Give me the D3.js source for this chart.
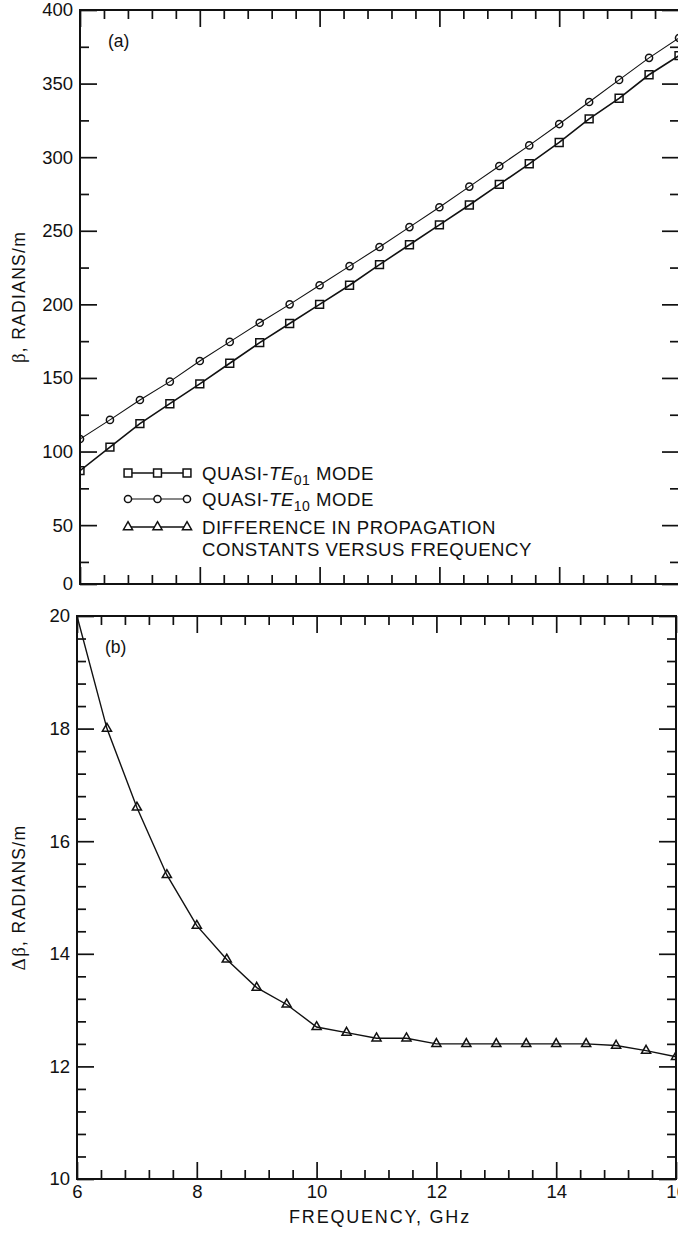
<!DOCTYPE html>
<html><head><meta charset="utf-8">
<script src="https://cdn.jsdelivr.net/npm/d3@7"></script>
<style>
body{margin:0;background:#fff;}
svg{display:block;font-family:"Liberation Sans",Arial,Helvetica,sans-serif;}
</style></head><body>
<svg id="c" width="678" height="1233"></svg>
<script>
// ---- data ----
const freq = [6.0,6.5,7.0,7.5,8.0,8.5,9.0,9.5,10.0,10.5,11.0,11.5,12.0,12.5,13.0,13.5,14.0,14.5,15.0,15.5,16.0];
const te01 = [87,103,119,132.5,146,160,174,187,200,213,227,240.5,254,267.5,281.5,295.5,310,326,340,356,369];
const te10 = [108.5,121.5,135,147.5,161.5,174.5,187.5,200,213,226,239,252.5,266,280,294,308,322.5,337.5,352.5,367.5,381];
const deltaBeta = [20.0,18.0,16.6,15.4,14.5,13.9,13.4,13.1,12.7,12.6,12.5,12.5,12.4,12.4,12.4,12.4,12.4,12.4,12.37,12.28,12.17];
const freqTicks = [6,8,10,12,14,16];
const betaTicks = [0,50,100,150,200,250,300,350,400];
const dbTicks = [10,12,14,16,18,20];
const freqMinorStep = 0.4, betaMinorStep = 25, dbMinorStep = 0.4;

const svg = d3.select("#c");
const INK = "#111";

const A = {l:80, r:679, t:10, b:584};
const B = {l:77, r:676, t:616, b:1179};

const xA = d3.scaleLinear().domain([6,16]).range([A.l, A.r]);
const yA = d3.scaleLinear().domain([10,400]).range([A.b, A.t]).clamp(true);
const xB = d3.scaleLinear().domain([6,16]).range([B.l, B.r]);
const yB = d3.scaleLinear().domain([10,20]).range([B.b, B.t]);

const freqMinor = d3.range(0, 26).map(i => +(6 + i*freqMinorStep).toFixed(2)).filter(v => !freqTicks.includes(v));
const betaMinor = d3.range(25, 400, betaMinorStep).filter(v => !betaTicks.includes(v));
const dbMinor = d3.range(0, 26).map(i => +(10 + i*dbMinorStep).toFixed(2)).filter(v => !dbTicks.includes(v));

function styleAxis(g, labels){
  g.select(".domain").remove();
  g.selectAll(".tick line").attr("stroke", INK).attr("stroke-width", 1.7);
  g.selectAll(".tick text").attr("fill", INK).style("font-size", labels ? "18.5px" : "0px")
   .style("font-family", '"Liberation Sans",Arial,sans-serif');
}

function drawPanel(P, x, y, yMajor, yMinor, showXLabels){
  const MAJ = 17, MIN = 9;
  svg.append("g").attr("transform", `translate(${P.l},0)`)
    .call(d3.axisLeft(y).tickValues(yMajor).tickSizeInner(-MAJ).tickSizeOuter(0).tickPadding(7).tickFormat(d3.format("d")))
    .call(g => styleAxis(g, true));
  svg.append("g").attr("transform", `translate(${P.l},0)`)
    .call(d3.axisLeft(y).tickValues(yMinor).tickSizeInner(-MIN).tickSizeOuter(0).tickFormat(""))
    .call(g => styleAxis(g, false));
  svg.append("g").attr("transform", `translate(${P.r},0)`)
    .call(d3.axisRight(y).tickValues(yMajor).tickSizeInner(-MAJ).tickSizeOuter(0).tickFormat(""))
    .call(g => styleAxis(g, false));
  svg.append("g").attr("transform", `translate(${P.r},0)`)
    .call(d3.axisRight(y).tickValues(yMinor).tickSizeInner(-MIN).tickSizeOuter(0).tickFormat(""))
    .call(g => styleAxis(g, false));
  svg.append("g").attr("transform", `translate(0,${P.t})`)
    .call(d3.axisTop(x).tickValues(freqTicks).tickSizeInner(-MAJ).tickSizeOuter(0).tickFormat(""))
    .call(g => styleAxis(g, false));
  svg.append("g").attr("transform", `translate(0,${P.t})`)
    .call(d3.axisTop(x).tickValues(freqMinor).tickSizeInner(-MIN).tickSizeOuter(0).tickFormat(""))
    .call(g => styleAxis(g, false));
  svg.append("g").attr("transform", `translate(0,${P.b})`)
    .call(d3.axisBottom(x).tickValues(freqTicks).tickSizeInner(-MAJ).tickSizeOuter(0).tickPadding(6).tickFormat(showXLabels ? d3.format("d") : ""))
    .call(g => styleAxis(g, showXLabels));
  svg.append("g").attr("transform", `translate(0,${P.b})`)
    .call(d3.axisBottom(x).tickValues(freqMinor).tickSizeInner(-MIN).tickSizeOuter(0).tickFormat(""))
    .call(g => styleAxis(g, false));
  svg.append("rect").attr("x", P.l).attr("y", P.t).attr("width", P.r - P.l).attr("height", P.b - P.t)
    .attr("fill", "none").attr("stroke", INK).attr("stroke-width", 2);
}

drawPanel(A, xA, yA, betaTicks, betaMinor, false);
drawPanel(B, xB, yB, dbTicks, dbMinor, true);

const defs = svg.append("defs");
defs.append("clipPath").attr("id","clipA").append("rect").attr("x",A.l).attr("y",A.t).attr("width",A.r-A.l).attr("height",A.b-A.t);
defs.append("clipPath").attr("id","clipB").append("rect").attr("x",B.l).attr("y",B.t).attr("width",B.r-B.l).attr("height",B.b-B.t);

const sq = d3.symbol().type(d3.symbolSquare).size(62);
const ci = d3.symbol().type(d3.symbolCircle).size(40);
const tr = d3.symbol().type(d3.symbolTriangle).size(36);

function series(clip, x, y, xs, ys, sym, lw, markFilter){
  const pts = xs.map((f,i) => [f, ys[i]]);
  const g = svg.append("g").attr("clip-path", `url(#${clip})`);
  g.append("path").datum(pts).attr("fill","none").attr("stroke",INK).attr("stroke-width",lw)
    .attr("d", d3.line().x(d => x(d[0])).y(d => y(d[1])));
  g.selectAll("path.m").data(pts.filter(markFilter)).join("path").attr("class","m")
    .attr("transform", d => `translate(${x(d[0])},${y(d[1])})`)
    .attr("d", sym).attr("fill","none").attr("stroke",INK).attr("stroke-width",1.5);
}

series("clipA", xA, yA, freq, te10, ci, 1.1, () => true);
series("clipA", xA, yA, freq, te01, sq, 1.6, () => true);
series("clipB", xB, yB, freq, deltaBeta, tr, 1.4, d => d[0] > 6);

svg.append("text").attr("x", 108).attr("y", 47).attr("fill", INK).style("font-size","17.5px").text("(a)");
svg.append("text").attr("x", 105).attr("y", 653).attr("fill", INK).style("font-size","17.5px").text("(b)");

const legend = [
  {sym: sq, lw: 1.6, pre: "QUASI-", it: "TE", sub: "01", post: " MODE"},
  {sym: ci, lw: 1.1, pre: "QUASI-", it: "TE", sub: "10", post: " MODE"},
  {sym: tr, lw: 1.4, pre: "DIFFERENCE IN PROPAGATION", it: "", sub: "", post: ""}
];
const legY = [473, 499, 527];
const LFS = "18.6px", LLS = "0.5px";
legend.forEach((L, i) => {
  const yy = legY[i];
  const g = svg.append("g");
  g.append("line").attr("x1",128).attr("x2",188).attr("y1",yy).attr("y2",yy).attr("stroke",INK).attr("stroke-width",L.lw);
  [128,157.5,187].forEach(xx => g.append("path").attr("transform",`translate(${xx},${yy})`).attr("d", L.sym)
    .attr("fill","#fff").attr("stroke",INK).attr("stroke-width",1.5));
  const t = g.append("text").attr("x", 202).attr("y", yy + 6.5).attr("fill", INK)
    .style("font-size",LFS).style("letter-spacing",LLS);
  t.append("tspan").text(L.pre);
  if (L.it) {
    t.append("tspan").style("font-style","italic").text(L.it);
    t.append("tspan").attr("dy", 5).style("font-size","14px").text(L.sub);
    t.append("tspan").attr("dy", -5).text(L.post);
  }
});
svg.append("text").attr("x", 202).attr("y", 556).attr("fill", INK)
  .style("font-size",LFS).style("letter-spacing",LLS).text("CONSTANTS VERSUS FREQUENCY");

svg.append("text").attr("transform", `translate(25,${(A.t + A.b)/2}) rotate(-90)`).attr("text-anchor","middle")
  .attr("fill", INK).style("font-size","17.5px").style("letter-spacing","1.3px")
  .html('<tspan style="font-family:\'Liberation Serif\',serif;font-size:19px">β</tspan>, RADIANS/m');
svg.append("text").attr("transform", `translate(25,${(B.t + B.b)/2}) rotate(-90)`).attr("text-anchor","middle")
  .attr("fill", INK).style("font-size","17.5px").style("letter-spacing","1.3px")
  .html('<tspan style="font-family:\'Liberation Serif\',serif;font-size:19px">Δβ</tspan>, RADIANS/m');
svg.append("text").attr("x", 380).attr("y", 1223).attr("text-anchor","middle")
  .attr("fill", INK).style("font-size","18px").style("letter-spacing","1.8px").text("FREQUENCY, GHz");
</script>
</body></html>
